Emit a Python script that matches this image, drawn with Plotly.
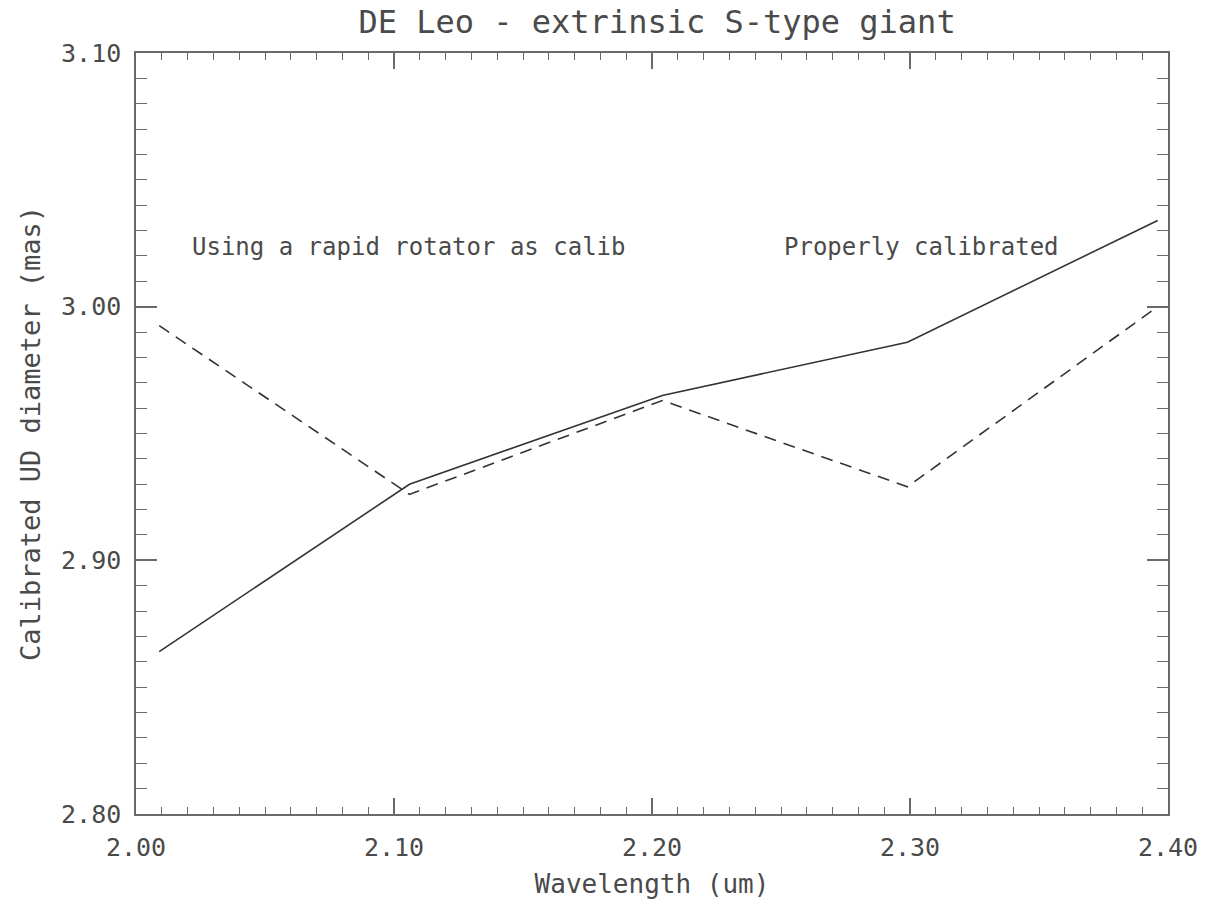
import plotly.graph_objects as go

wavelength = [2.009, 2.106, 2.204, 2.299, 2.396]
proper_cal = [2.864, 2.930, 2.965, 2.986, 3.034]
rapid_rot = [2.9925, 2.926, 2.963, 2.929, 3.000]

x_ticks = [2.00, 2.10, 2.20, 2.30, 2.40]
x_ticklabels = ["2.00", "2.10", "2.20", "2.30", "2.40"]
y_ticks = [2.80, 2.90, 3.00, 3.10]
y_ticklabels = ["2.80", "2.90", "3.00", "3.10"]

FONT = "DejaVu Sans Mono"
TXT = "#4a4a4a"
AX = "#6a6a6a"

fig = go.Figure()
fig.add_trace(go.Scatter(x=wavelength, y=proper_cal, mode="lines",
                         line=dict(color="#333333", width=1.6), showlegend=False))
fig.add_trace(go.Scatter(x=wavelength, y=rapid_rot, mode="lines",
                         line=dict(color="#333333", width=1.6, dash="12px,8px"), showlegend=False))

fig.add_annotation(x=2.0208, y=3.0235, xref="x", yref="y", text="Using a rapid rotator as calib",
                   showarrow=False, xanchor="left", yanchor="middle",
                   font=dict(family=FONT, size=24, color=TXT, weight=300))
fig.add_annotation(x=2.2504, y=3.0235, xref="x", yref="y", text="Properly calibrated",
                   showarrow=False, xanchor="left", yanchor="middle",
                   font=dict(family=FONT, size=24, color=TXT, weight=300))

fig.update_layout(
    width=1210, height=906,
    margin=dict(l=136, r=37, t=53, b=88),
    paper_bgcolor="white", plot_bgcolor="white",
    title=dict(text="DE Leo - extrinsic S-type giant", x=0.543, xanchor="center",
               y=1 - 22 / 906, yanchor="middle",
               font=dict(family=FONT, size=32, color=TXT, weight=300)),
    font=dict(family=FONT, color=TXT),
)
fig.update_xaxes(
    range=[2.0, 2.4], tickvals=x_ticks, ticktext=x_ticklabels,
    showgrid=False, zeroline=False, showline=True, linecolor=AX, linewidth=1.5, mirror="allticks",
    ticks="inside", ticklen=16, tickwidth=1.5, tickcolor=AX, ticklabelstandoff=10,
    tickfont=dict(family=FONT, size=25, color=TXT, weight=300),
    minor=dict(dtick=0.01, ticks="inside", ticklen=7, tickwidth=1.3, tickcolor=AX, showgrid=False),
    title=dict(text="Wavelength (um)", standoff=14,
               font=dict(family=FONT, size=26, color=TXT, weight=300)),
)
fig.update_yaxes(
    range=[2.8, 3.1], tickvals=y_ticks, ticktext=y_ticklabels,
    showgrid=False, zeroline=False, showline=True, linecolor=AX, linewidth=1.5, mirror="allticks",
    ticks="inside", ticklen=21, tickwidth=1.5, tickcolor=AX, ticklabelstandoff=8,
    tickfont=dict(family=FONT, size=25, color=TXT, weight=300),
    minor=dict(dtick=0.01, ticks="inside", ticklen=11, tickwidth=1.3, tickcolor=AX, showgrid=False),
    title=dict(text="Calibrated UD diameter (mas)", standoff=13,
               font=dict(family=FONT, size=27, color=TXT, weight=300)),
)

fig.write_html("out.html")
